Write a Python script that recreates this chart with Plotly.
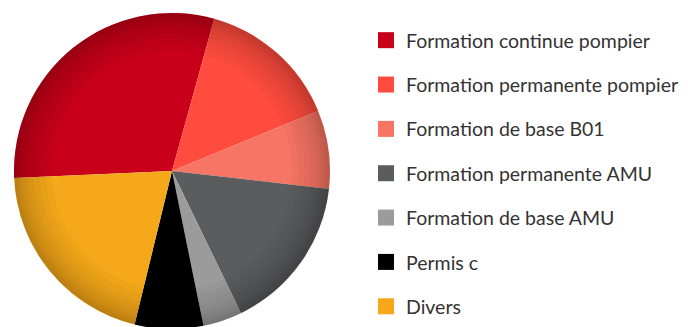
import plotly.graph_objects as go

labels = ["Formation continue pompier", "Formation permanente pompier", "Formation de base B01",
          "Formation permanente AMU", "Formation de base AMU", "Permis c", "Divers"]
values = [30, 14.5, 8, 16, 4, 7, 20.5]
colors = ["#C8001A", "#FF4C3F", "#F77565", "#5B5C5E", "#9B9B9B", "#000000", "#F5A91A"]

W, H = 688, 327
# pie placement in figure pixels (page is offset by the 8px body margin)
CX, CY, R = 164, 163, 158
dom = dict(x=[(CX - R) / W, (CX + R) / W], y=[1 - (CY + R) / H, 1 - (CY - R) / H])

fig = go.Figure()
fig.add_trace(go.Pie(
    labels=labels, values=values, sort=False, direction="clockwise", rotation=267.5,
    marker=dict(colors=colors, line=dict(width=0)), textinfo="none", hoverinfo="label+percent",
    showlegend=False, domain=dom,
))
# soft rim shading (3D look)
for hole in [0.76, 0.80, 0.84, 0.875, 0.905, 0.93, 0.95, 0.967, 0.982]:
    fig.add_trace(go.Pie(
        values=[1], labels=[""], hole=hole, sort=False, textinfo="none", hoverinfo="skip",
        marker=dict(colors=["rgba(0,0,0,0.028)"], line=dict(width=0)),
        showlegend=False, domain=dom,
    ))
for lab, col in zip(labels, colors):
    fig.add_trace(go.Scatter(
        x=[None], y=[None], mode="markers", name=lab, legendgroup=lab,
        marker=dict(symbol="square", size=20, color=col),
    ))

fig.update_layout(
    width=W, height=H, margin=dict(l=0, r=0, t=0, b=0),
    paper_bgcolor="white", plot_bgcolor="white",
    xaxis=dict(visible=False), yaxis=dict(visible=False),
    font=dict(family="Lato", size=19.5, color="#333333"),
    legend=dict(x=358 / W, y=1 - 13 / H, xanchor="left", yanchor="top",
                tracegroupgap=16, bgcolor="rgba(0,0,0,0)"),
)
fig.write_html("out.html")
